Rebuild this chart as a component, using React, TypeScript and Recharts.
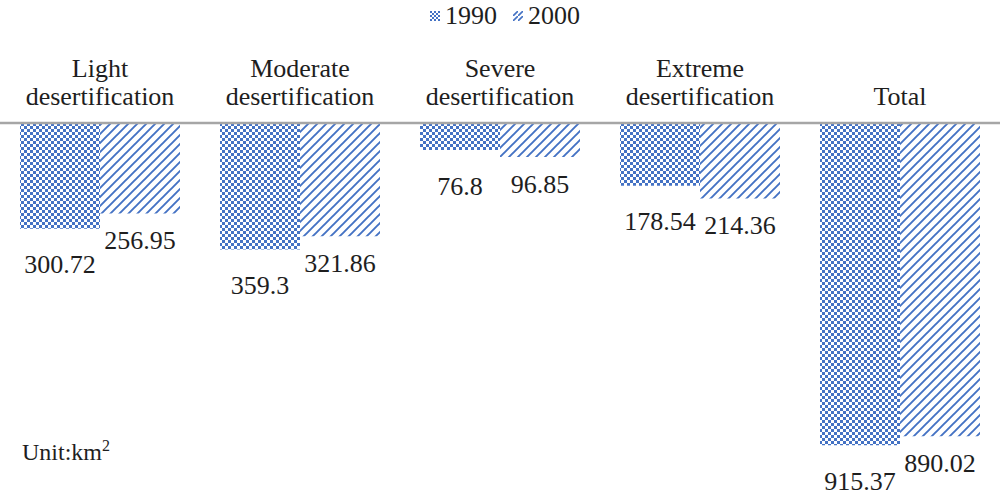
import { BarChart, Bar, XAxis, YAxis, LabelList } from "recharts";

const categories = [
  "Light desertification",
  "Moderate desertification",
  "Severe desertification",
  "Extreme desertification",
  "Total",
];
const values1990 = [300.72, 359.3, 76.8, 178.54, 915.37];
const values2000 = [256.95, 321.86, 96.85, 214.36, 890.02];

const data = categories.map((name, i) => ({
  name,
  y1990: values1990[i],
  y2000: values2000[i],
}));

const FONT = "'Liberation Serif', 'Times New Roman', serif";
const BLUE = "#4472C4";
const TEXT = "#1e1e1e";

function CategoryTick({ x, y, payload }: any) {
  const lines = String(payload.value).split(" ");
  const lineH = 28;
  return (
    <text
      x={x}
      y={y}
      textAnchor="middle"
      fill={TEXT}
      fontSize={26}
      style={{ fontFamily: FONT }}
    >
      {lines.map((l, i) => (
        <tspan key={i} x={x} y={y - 18 - (lines.length - 1 - i) * lineH}>
          {l}
        </tspan>
      ))}
    </text>
  );
}

function makeLabel(gap: number) {
  return function ValueLabel({ x, y, width, height, value }: any) {
    const end = Math.max(y, y + height);
    return (
      <text
        x={x + width / 2}
        y={end + gap}
        textAnchor="middle"
        dominantBaseline="central"
        fill={TEXT}
        fontSize={26}
        style={{ fontFamily: FONT }}
      >
        {value}
      </text>
    );
  };
}

function LegendItem({ pattern, label }: { pattern: string; label: string }) {
  return (
    <span style={{ display: "inline-flex", alignItems: "center", margin: "0 8px" }}>
      <svg width={10} height={10} style={{ marginRight: 5 }}>
        <rect width={10} height={10} fill={`url(#${pattern}L)`} />
      </svg>
      <span>{label}</span>
    </span>
  );
}

export default function App() {
  return (
    <div style={{ position: "relative", width: 1000, height: 498, fontFamily: FONT, background: "#fff" }}>
      <style>{"body{margin:0}"}</style>
      <svg width={0} height={0} style={{ position: "absolute" }}>
        <defs>
          <pattern id="chk" width={6} height={6} patternUnits="userSpaceOnUse">
            <rect width={6} height={6} fill="#fff" />
            <rect x={0} y={0} width={3} height={3} fill={BLUE} />
            <rect x={3} y={3} width={3} height={3} fill={BLUE} />
          </pattern>
          <pattern id="diag" width={9} height={9} patternUnits="userSpaceOnUse">
            <rect width={9} height={9} fill="#fff" />
            <path d="M-1,10 L10,-1 M-2,2 L2,-2 M7,11 L11,7" stroke={BLUE} strokeWidth={1.9} />
          </pattern>
          <pattern id="chkL" width={4} height={4} patternUnits="userSpaceOnUse">
            <rect width={4} height={4} fill="#fff" />
            <rect x={0} y={0} width={2} height={2} fill={BLUE} />
            <rect x={2} y={2} width={2} height={2} fill={BLUE} />
          </pattern>
          <pattern id="diagL" width={5} height={5} patternUnits="userSpaceOnUse">
            <rect width={5} height={5} fill="#fff" />
            <path d="M-1,6 L6,-1" stroke={BLUE} strokeWidth={1.6} />
          </pattern>
        </defs>
      </svg>
      <div
        style={{
          position: "absolute",
          top: -1,
          left: 0,
          width: 1010,
          textAlign: "center",
          fontSize: 26,
          lineHeight: "28px",
          color: TEXT,
          fontFamily: FONT,
          zIndex: 2,
        }}
      >
        <LegendItem pattern="chk" label="1990" />
        <LegendItem pattern="diag" label="2000" />
      </div>
      <BarChart
        width={1000}
        height={498}
        data={data}
        margin={{ top: 53, right: 0, bottom: 23, left: 0 }}
        barCategoryGap={20}
        barGap={0}
      >
        <XAxis
          dataKey="name"
          orientation="top"
          height={70}
          tickLine={false}
          tickSize={0}
          tickMargin={0}
          axisLine={{ stroke: "#a6a6a6", strokeWidth: 2.5 }}
          tick={<CategoryTick />}
          interval={0}
        />
        <YAxis hide reversed domain={[0, 1000]} />
        <Bar dataKey="y1990" fill="url(#chk)" isAnimationActive={false}>
          <LabelList dataKey="y1990" content={makeLabel(36)} />
        </Bar>
        <Bar dataKey="y2000" fill="url(#diag)" isAnimationActive={false}>
          <LabelList dataKey="y2000" content={makeLabel(27)} />
        </Bar>
      </BarChart>
      <div style={{ position: "absolute", left: 22, top: 437, fontSize: 24, color: TEXT, fontFamily: FONT }}>
        Unit:km<sup style={{ fontSize: 16 }}>2</sup>
      </div>
    </div>
  );
}
